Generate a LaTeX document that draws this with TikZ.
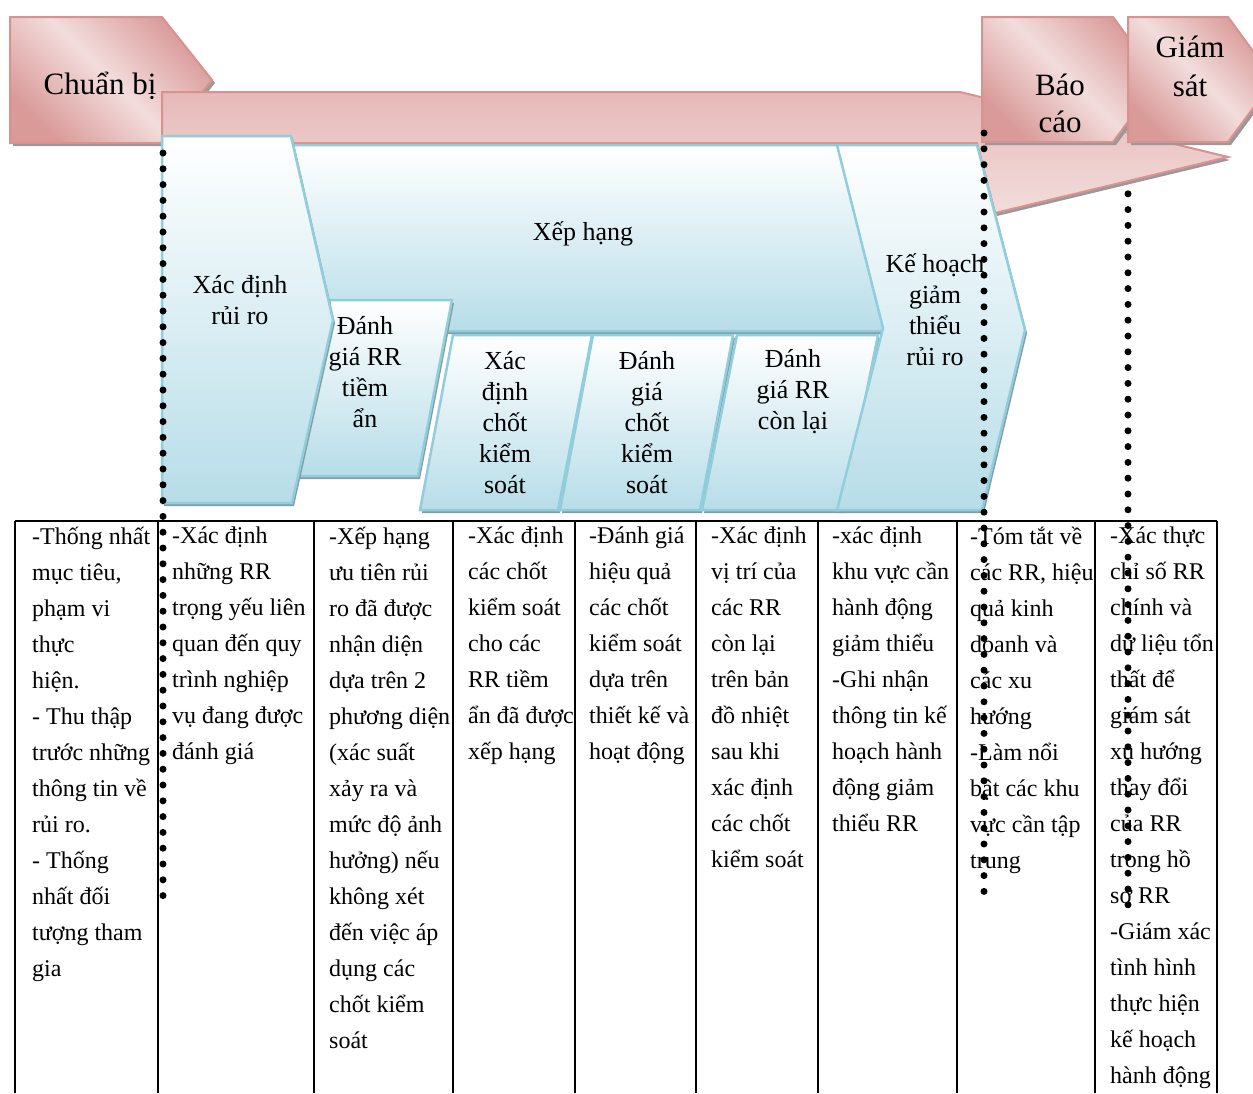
\documentclass[tikz,border=0pt]{standalone}
\usepackage{fontspec}
\setmainfont{Liberation Serif}
\usetikzlibrary{shadows}

\definecolor{pinkLight}{HTML}{F2DDDC}
\definecolor{pinkMid}{HTML}{E6B9B8}
\definecolor{pinkDark}{HTML}{D99A98}
\definecolor{pinkEdge}{HTML}{D8928F}
\definecolor{blueLight}{HTML}{B7DDE8}
\definecolor{blueEdge}{HTML}{92CDDC}
\definecolor{blueShade}{HTML}{7F9EA6}

\begin{document}
\begin{tikzpicture}[
        x=1pt, y=-1pt,
        phase/.style={draw=pinkEdge, line width=2pt, line join=miter, top color=pinkDark, bottom color=pinkDark, middle color=pinkLight, shading angle=-45, drop shadow={shadow xshift=3pt, shadow yshift=-3pt, fill=black!40, opacity=1}},
        band/.style={draw=pinkEdge, line width=2pt, line join=miter, top color=pinkMid, bottom color=pinkLight, drop shadow={shadow xshift=2pt, shadow yshift=-3pt, fill=black!40, opacity=1}},
        stage/.style={draw=blueEdge, line width=2.5pt, line join=miter, top color=white, bottom color=blueLight, drop shadow={shadow xshift=2pt, shadow yshift=-3pt, fill=blueShade, opacity=1}},
        phaselabel/.style={align=center, inner sep=0pt, font=\fontsize{31}{37}\selectfont},
        stagelabel/.style={align=center, inner sep=0pt, font=\fontsize{26}{31}\selectfont},
        cell/.style={anchor=north west, align=left, inner sep=0pt, font=\fontsize{24}{36}\selectfont, execute at begin node=\strut},
        cellrule/.style={line width=2pt},
        dots/.style={line width=7pt, line cap=round, dash pattern=on 0pt off 15.8pt}
    ]
        \useasboundingbox (0,0) rectangle (1253,1093);
        \clip (0,0) rectangle (1253,1093);
        \fill[white] (0,0) rectangle (1253,1093);

        % Table
        \draw[cellrule] (15,521) -- (1217,521);
        \foreach \x in {15,158,314,453,575,696,818,957,1095,1217}
            \draw[cellrule] (\x,521) -- (\x,1093);

        \node[cell] (cellPrep) at (32,527) {-Thống nhất\\mục tiêu,\\phạm vi\\thực\\hiện.\\- Thu thập\\trước những\\thông tin về\\rủi ro.\\- Thống\\nhất đối\\tượng tham\\gia};
        \node[cell] (cellIdentify) at (172,527) {-Xác định\\những RR\\trọng yếu liên\\quan đến quy\\trình nghiệp\\vụ đang được\\đánh giá};
        \node[cell] (cellRank) at (329,527) {-Xếp hạng\\ưu tiên rủi\\ro đã được\\nhận diện\\dựa trên 2\\phương diện\\(xác suất\\xảy ra và\\mức độ ảnh\\hưởng) nếu\\không xét\\đến việc áp\\dụng các\\chốt kiểm\\soát};
        \node[cell] (cellCtrlId) at (468,527) {-Xác định\\các chốt\\kiểm soát\\cho các\\RR tiềm\\ẩn đã được\\xếp hạng};
        \node[cell] (cellCtrlEval) at (589,527) {-Đánh giá\\hiệu quả\\các chốt\\kiểm soát\\dựa trên\\thiết kế và\\hoạt động};
        \node[cell] (cellResidual) at (711,527) {-Xác định\\vị trí của\\các RR\\còn lại\\trên bản\\đồ nhiệt\\sau khi\\xác định\\các chốt\\kiểm soát};
        \node[cell] (cellMitigate) at (832,527) {-xác định\\khu vực cần\\hành động\\giảm thiểu\\-Ghi nhận\\thông tin kế\\hoạch hành\\động giảm\\thiểu RR};
        \node[cell] (cellReport) at (970,527) {-Tóm tắt về\\các RR, hiệu\\quả kinh\\doanh và\\các xu\\hướng\\-Làm nổi\\bật các khu\\vực cần tập\\trung};
        \node[cell] (cellMonitor) at (1110,527) {-Xác thực\\chỉ số RR\\chính và\\dữ liệu tổn\\thất để\\giám sát\\xu hướng\\thay đổi\\của RR\\trong hồ\\sơ RR\\-Giám xác\\tình hình\\thực hiện\\kế hoạch\\hành động};

        % Dotted divider behind the band
        \draw[dots] (1128,178) -- (1128,913);

        % Chuan bi box
        \draw[phase] (10,17) -- (162,17) -- (212,80) -- (162,143) -- (10,143) -- cycle;
        \node[phaselabel] (prep) at (100,86) {Chuẩn bị};

        % Long band with arrow head
        \draw[band] (162,92) -- (960,92) -- (1228,157) -- (995,213) -- (977,143) -- (162,143) -- cycle;

        % Bao cao and Giam sat boxes
        \draw[phase] (982,17) -- (1113,17) -- (1159,80) -- (1113,142) -- (982,142) -- cycle;
        \node[phaselabel] (report) at (1060,103) {Báo\\cáo};
        \draw[phase] (1128,17) -- (1228,17) -- (1274,80) -- (1228,142) -- (1128,142) -- cycle;
        \node[phaselabel, font=\fontsize{31}{39}\selectfont] (monitor) at (1190,66) {Giám\\sát};

        % Xep hang
        \draw[stage] (285,145) -- (838,145) -- (884,331) -- (285,331) -- cycle;
        \node[stagelabel] (rank) at (583,234) {Xếp hạng};

        % Danh gia RR tiem an
        \draw[stage] (330,300) -- (452,300) -- (418,476) -- (296,476) -- cycle;
        \node[stagelabel] (inherent) at (365,372) {Đánh\\giá RR\\tiềm\\ẩn};

        % Xac dinh rui ro
        \draw[stage] (162,136) -- (291,136) -- (333,320) -- (292,503) -- (162,503) -- cycle;
        \node[stagelabel] (identify) at (240,300) {Xác định\\rủi ro};

        % Sub steps
        \draw[stage] (453,335) -- (592,335) -- (558,510) -- (420,510) -- cycle;
        \node[stagelabel] (ctrlId) at (505,423) {Xác\\định\\chốt\\kiểm\\soát};
        \draw[stage] (593,335) -- (733,335) -- (700,510) -- (560,510) -- cycle;
        \node[stagelabel] (ctrlEval) at (647,423) {Đánh\\giá\\chốt\\kiểm\\soát};
        \draw[stage] (737,335) -- (878,335) -- (843,510) -- (702,510) -- cycle;
        \node[stagelabel] (residual) at (793,392) {Đánh\\giá RR\\còn lại};

        % Ke hoach giam thieu
        \draw[stage] (837,145) -- (977,145) -- (1025,330) -- (982,510) -- (837,510) -- (883,328) -- cycle;
        \node[stagelabel] (mitigate) at (935,310) {Kế hoạch\\giảm\\thiểu\\rủi ro};

        % Dotted dividers
        \draw[dots] (163,153) -- (163,905);
        \draw[dots] (984,133) -- (984,902);
    \end{tikzpicture}
\end{document}
